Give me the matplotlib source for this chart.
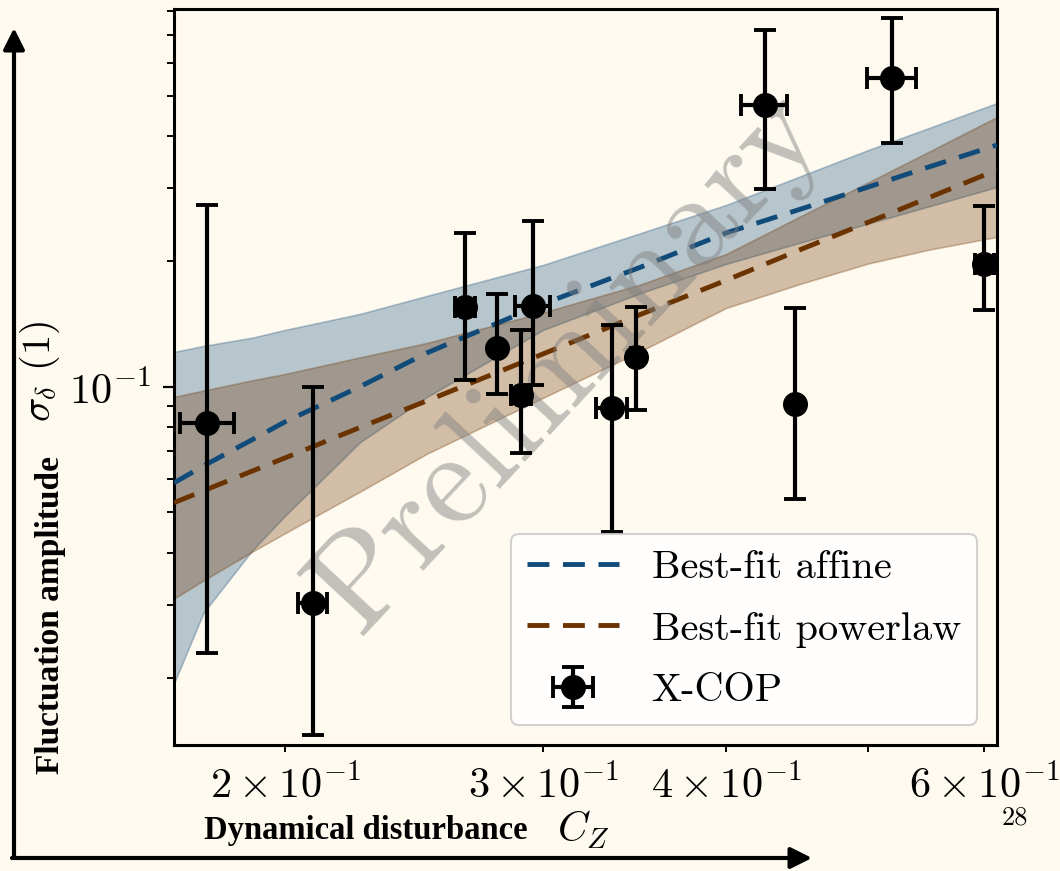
import numpy as np
import matplotlib
matplotlib.use("Agg")
import matplotlib.pyplot as plt
from matplotlib import font_manager

# ---- X-COP clusters: dynamical disturbance vs fluctuation amplitude ----
cz = [0.177, 0.209, 0.2654, 0.2792, 0.2899, 0.2951, 0.3341, 0.3472, 0.4248, 0.4458, 0.519, 0.600]
cz_err = [0.0075, 0.0048, 0.0042, 0.0010, 0.0045, 0.0080, 0.0080, 0.0030, 0.0155, 0.0020, 0.0200, 0.0090]
sigma = [0.0820, 0.0302, 0.1559, 0.1239, 0.0957, 0.1565, 0.0889, 0.1182, 0.4758, 0.0910, 0.5507, 0.1973]
sigma_lo = [0.0230, 0.0146, 0.1039, 0.0962, 0.0694, 0.1011, 0.0449, 0.0881, 0.2982, 0.0539, 0.3844, 0.1530]
sigma_hi = [0.2735, 0.1000, 0.2342, 0.1671, 0.1370, 0.2507, 0.1409, 0.1553, 0.7198, 0.1545, 0.7686, 0.2724]

# ---- best-fit models and their credible bands, sampled in C_Z ----
cz_grid = [0.168, 0.176, 0.19, 0.2, 0.225, 0.25, 0.3, 0.35, 0.4, 0.45, 0.5, 0.55, 0.612]
affine_mid = [0.0588, 0.0646, 0.0747, 0.0824, 0.1001, 0.1207, 0.1582, 0.1941, 0.2343, 0.2675, 0.3020, 0.3374, 0.3809]
affine_lo = [0.0194, 0.0287, 0.0405, 0.0490, 0.0736, 0.0946, 0.1370, 0.1681, 0.1974, 0.2223, 0.2467, 0.2713, 0.3020]
affine_hi = [0.1213, 0.1254, 0.1313, 0.1370, 0.1497, 0.1654, 0.1963, 0.2343, 0.2735, 0.3210, 0.3706, 0.4184, 0.4805]
power_mid = [0.0527, 0.0563, 0.0628, 0.0675, 0.0799, 0.0926, 0.1200, 0.1495, 0.1803, 0.2140, 0.2485, 0.2848, 0.3318]
power_lo = [0.0310, 0.0343, 0.0402, 0.0445, 0.0560, 0.0691, 0.0941, 0.1220, 0.1547, 0.1770, 0.1978, 0.2135, 0.2291]
power_hi = [0.0946, 0.0980, 0.1037, 0.1074, 0.1177, 0.1275, 0.1509, 0.1764, 0.2085, 0.2573, 0.3098, 0.3671, 0.4448]

BG = "#fffaf0"
BLUE = "#114b7a"
BROWN = "#6b3300"

plt.rcParams["font.family"] = ["cmr10", "DejaVu Serif"]
plt.rcParams["mathtext.fontset"] = "cm"
plt.rcParams["axes.formatter.use_mathtext"] = True
plt.rcParams["font.size"] = 29

available = {f.name for f in font_manager.fontManager.ttflist}
label_family = "Liberation Sans Narrow" if "Liberation Sans Narrow" in available else "Liberation Serif"

fig = plt.figure(figsize=(10.6, 8.71), dpi=100, facecolor=BG)
ax = fig.add_axes([174 / 1060, 1 - 745 / 871, (997 - 174) / 1060, (745 - 9) / 871])
ax.set_facecolor(BG)
ax.set_xscale("log")
ax.set_yscale("log")

ax.fill_between(cz_grid, affine_lo, affine_hi, color=BLUE, alpha=0.3, lw=1.2, zorder=1)
ax.fill_between(cz_grid, power_lo, power_hi, color=BROWN, alpha=0.3, lw=1.2, zorder=1)
dash = (0, (4.5, 2.8))
ax.plot(cz_grid, affine_mid, ls=dash, color=BLUE, lw=3.5, label="Best-fit affine", zorder=3)
ax.plot(cz_grid, power_mid, ls=dash, color=BROWN, lw=3.5, label="Best-fit powerlaw", zorder=3)

yerr = [np.array(sigma) - np.array(sigma_lo), np.array(sigma_hi) - np.array(sigma)]
ax.errorbar(cz, sigma, xerr=cz_err, yerr=yerr, fmt="o", color="black", ms=17,
            elinewidth=3.0, capsize=8, capthick=2.8, label="X-COP", zorder=5)

ax.text(0.48, 0.52, "Preliminary", transform=ax.transAxes, rotation=47,
        ha="center", va="center", fontsize=96, color="gray", alpha=0.48, zorder=4)

ax.set_xlim(0.168, 0.612)
ax.set_ylim(0.0138, 0.808)

for s in ax.spines.values():
    s.set_linewidth(2.2)
ax.tick_params(which="major", length=8, width=1.6, pad=9, labelsize=30.5)
ax.tick_params(which="minor", length=5, width=1.4, pad=9, labelsize=30.5)

leg = ax.legend(loc="lower right", fontsize=29, frameon=True, fancybox=True,
                framealpha=0.9, edgecolor="0.8", handlelength=2.3, borderaxespad=0.5,
                labelspacing=0.62)
leg.get_frame().set_linewidth(1.5)

# axis labels placed on the figure
fig.text(40 / 1060, 1 - 371 / 871, r"$\sigma_\delta$ (1)", rotation=90, ha="center", va="center", fontsize=29)
fig.text(583 / 1060, 1 - 830 / 871, r"$C_Z$", ha="center", va="center", fontsize=30)
fig.text(366 / 1060, 1 - 830 / 871, "Dynamical disturbance", ha="center", va="center",
         fontsize=23.5, fontweight="bold", family=label_family)
fig.text(50 / 1060, 1 - 615 / 871, "Fluctuation amplitude", rotation=90, ha="center", va="center",
         fontsize=24, fontweight="bold", family=label_family)
fig.text(1015 / 1060, 1 - 818 / 871, "28", ha="center", va="center", fontsize=19)

# framing arrows
arrow = dict(arrowstyle="-|>", lw=3, color="black", mutation_scale=32, shrinkA=0, shrinkB=0)
fig.add_artist(matplotlib.patches.FancyArrowPatch((14 / 1060, 1 - 858 / 871), (14 / 1060, 1 - 28 / 871),
                                                  transform=fig.transFigure, **arrow))
fig.add_artist(matplotlib.patches.FancyArrowPatch((12 / 1060, 1 - 858 / 871), (812 / 1060, 1 - 858 / 871),
                                                  transform=fig.transFigure, **arrow))

fig.savefig("out.png", dpi=100, facecolor=BG)
